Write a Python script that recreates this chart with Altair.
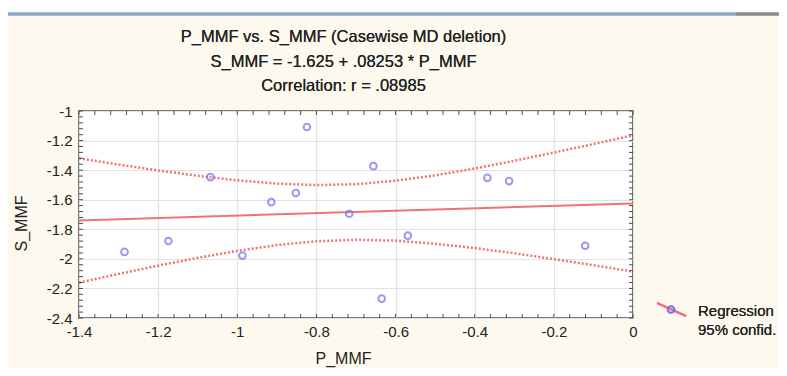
import altair as alt
import pandas as pd

# ---------------- data ----------------
p_mmf = [-1.285, -1.174, -1.068, -0.987, -0.914, -0.852, -0.824,
         -0.717, -0.656, -0.635, -0.569, -0.368, -0.313, -0.121]
s_mmf = [-1.953, -1.879, -1.447, -1.978, -1.616, -1.555, -1.108,
         -1.695, -1.373, -2.269, -1.843, -1.452, -1.474, -1.911]

reg_x = [-1.4, 0.0]
reg_y = [-1.7405, -1.625]

band_x = [-1.4, -1.3, -1.2, -1.1, -1.0, -0.9, -0.8, -0.7,
          -0.6, -0.5, -0.4, -0.3, -0.2, -0.1, 0.0]
band_upper = [-1.32, -1.362, -1.402, -1.438, -1.469, -1.491, -1.501, -1.495,
              -1.472, -1.435, -1.389, -1.337, -1.281, -1.224, -1.164]
band_lower = [-2.161, -2.102, -2.046, -1.993, -1.946, -1.907, -1.881, -1.871,
              -1.877, -1.898, -1.927, -1.962, -2.002, -2.043, -2.086]

x_major = [-1.4, -1.2, -1.0, -0.8, -0.6, -0.4, -0.2, 0.0]
y_major = [-2.4, -2.2, -2.0, -1.8, -1.6, -1.4, -1.2, -1.0]
x_minor = [round(-1.4 + 0.04 * i, 2) for i in range(36)]
y_minor = [round(-2.4 + 0.04 * i, 2) for i in range(36)]

title_lines = ["P_MMF vs. S_MMF (Casewise MD deletion)",
               "S_MMF = -1.625 + .08253 * P_MMF",
               "Correlation: r = .08985"]
x_title = "P_MMF"
y_title = "S_MMF"
legend_labels = ["Regression", "95% confid."]

# ---------------- styling ----------------
FONT = "Liberation Sans"
W, H = 554, 207
RED = "#f07272"
BLUE = "#6f6ff2"
FRAME = "#4d4d4d"
TXT = "#222222"

pts = pd.DataFrame({"x": p_mmf, "y": s_mmf})
reg = pd.DataFrame({"x": reg_x, "y": reg_y})
up = pd.DataFrame({"x": band_x, "y": band_upper})
lo = pd.DataFrame({"x": band_x, "y": band_lower})
xm = pd.DataFrame({"x": x_minor})
ym = pd.DataFrame({"y": y_minor})

label_expr = ("datum.value == 0 ? '0' : (datum.value < 0 ? '-' : '') + "
              "format(abs(datum.value), '~g')")

xscale = alt.Scale(domain=[-1.4, 0.0], nice=False, zero=False)
yscale = alt.Scale(domain=[-2.4, -1.0], nice=False, zero=False)

xaxis = alt.Axis(values=x_major, title=x_title, labelExpr=label_expr,
                 grid=True, gridColor="#e2e2e2", gridWidth=1.2,
                 ticks=False, tickSize=0, domain=False,
                 labelFont=FONT, labelFontSize=15, labelColor=TXT,
                 labelPadding=6, labelFlush=False, labelOverlap=False,
                 titleFont=FONT, titleFontSize=16, titleFontWeight="normal",
                 titleColor=TXT, titleX=264, titleY=40,
                 titleBaseline="middle", titleAlign="center")
yaxis = alt.Axis(values=y_major, title=y_title, labelExpr=label_expr,
                 grid=True, gridColor="#e2e2e2", gridWidth=1.2,
                 ticks=False, tickSize=0, domain=False,
                 labelFont=FONT, labelFontSize=15, labelColor=TXT,
                 labelPadding=7, labelFlush=False, labelOverlap=False,
                 titleFont=FONT, titleFontSize=16, titleFontWeight="normal",
                 titleColor=TXT, titleX=-58, titleY=112, titleAngle=270,
                 titleBaseline="middle", titleAlign="center")

X = alt.X("x:Q", scale=xscale, axis=xaxis)
Y = alt.Y("y:Q", scale=yscale, axis=yaxis)

# decorations above the chart (window header line)
white_band = alt.Chart(reg).mark_rule(color="white", strokeWidth=5).encode(
    x=alt.value(-71), x2=alt.value(W + 146), y=alt.value(-101))
blue_line = alt.Chart(reg).mark_rule(color="#8ba5cc", strokeWidth=3).encode(
    x=alt.value(-71), x2=alt.value(657), y=alt.value(-97))
gray_line = alt.Chart(reg).mark_rule(color="#8c8c8c", strokeWidth=3).encode(
    x=alt.value(657), x2=alt.value(W + 146), y=alt.value(-97))

# three-line title
title_layers = [
    alt.Chart(reg).mark_text(align="center", baseline="middle", font=FONT,
                             fontSize=16.5, color=TXT).encode(
        x=alt.value(264.5), y=alt.value(yy), text=alt.value(line))
    for line, yy in zip(title_lines, [-74, -49.5, -25.5])
]

upper = alt.Chart(up).mark_line(color=RED, strokeWidth=2.5,
                                strokeDash=[2, 2]).encode(x=X, y=Y)
lower = alt.Chart(lo).mark_line(color=RED, strokeWidth=2.5,
                                strokeDash=[2, 2]).encode(x=X, y=Y)
regline = alt.Chart(reg).mark_line(color=RED, strokeWidth=2).encode(x=X, y=Y)
points = alt.Chart(pts).mark_point(shape="circle", filled=False, size=44,
                                   strokeWidth=2, color=BLUE).encode(x=X, y=Y)

# inward minor ticks on the frame
t_top = alt.Chart(xm).mark_rule(color=FRAME, strokeWidth=1).encode(
    x=X, y=alt.value(0), y2=alt.value(4))
t_bot = alt.Chart(xm).mark_rule(color=FRAME, strokeWidth=1).encode(
    x=X, y=alt.value(H), y2=alt.value(H - 4))
t_left = alt.Chart(ym).mark_rule(color=FRAME, strokeWidth=1).encode(
    y=Y, x=alt.value(0), x2=alt.value(4))
t_right = alt.Chart(ym).mark_rule(color=FRAME, strokeWidth=1).encode(
    y=Y, x=alt.value(W), x2=alt.value(W - 4))

# legend
leg_line = alt.Chart(reg).mark_rule(color=RED, strokeWidth=2).encode(
    x=alt.value(578), x2=alt.value(607), y=alt.value(192), y2=alt.value(205))
leg_pt = alt.Chart(reg).mark_point(shape="circle", filled=False, size=44,
                                   strokeWidth=2, color=BLUE).encode(
    x=alt.value(592), y=alt.value(198.5))
leg_t1 = alt.Chart(reg).mark_text(align="left", baseline="middle", font=FONT,
                                  fontSize=15, color=TXT).encode(
    x=alt.value(619), y=alt.value(200), text=alt.value(legend_labels[0]))
leg_t2 = alt.Chart(reg).mark_text(align="left", baseline="middle", font=FONT,
                                  fontSize=15, color=TXT).encode(
    x=alt.value(619), y=alt.value(219), text=alt.value(legend_labels[1]))

chart = alt.layer(
    white_band, blue_line, gray_line, *title_layers,
    upper, lower, regline, points,
    t_top, t_bot, t_left, t_right,
    leg_line, leg_pt, leg_t1, leg_t2,
).properties(
    width=W, height=H,
    autosize=alt.AutoSizeParams(type="none"),
    padding={"left": 71, "top": 103, "right": 146, "bottom": 50},
    background="#fdf9ee",
).configure_view(
    fill="white", stroke=FRAME, strokeWidth=1.6
)

chart.save("out.html", embed_options={"renderer": "svg", "actions": False})
